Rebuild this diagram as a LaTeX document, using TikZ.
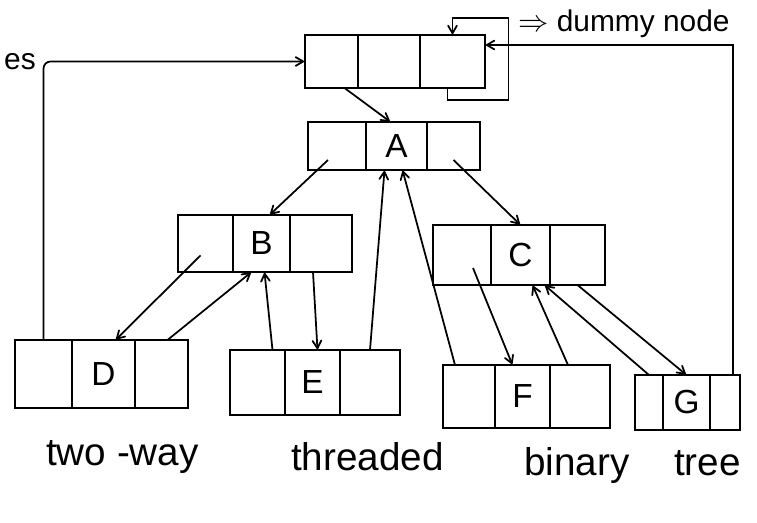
\documentclass[tikz,border=0pt]{standalone}
\usepackage{fontspec}
\setmainfont{Liberation Sans}
\usetikzlibrary{arrows,shapes,positioning,calc}
\tikzstyle{cell}=[draw,line width=1pt,outer sep=0pt,inner sep=0pt,font=\fontsize{19}{21}\selectfont]
\tikzstyle{edge} = [draw,line width=1pt,->,>=angle 60]
\tikzstyle{note} = [font=\fontsize{17}{20}\selectfont]
\tikzstyle{caption} = [font=\fontsize{22}{26}\selectfont, anchor=base west]

\begin{document}
\begin{tikzpicture}[x=0.02cm, y=-0.02cm]

    \useasboundingbox (0,0) rectangle (757,523);

    % every node: left link | data | right link
    \foreach \name/\x/\y/\wl/\wm/\wr/\h/\lab in {head/305/35/53/62/65/53/{},
        A/308/122/58/61/53/48/A, B/178/215/55/57/62/57/B, C/433/225/58/59/55/60/C,
        D/15/340/57/63/53/68/D, E/230/350/55/55/60/65/E, F/443/365/52/55/60/63/F,
        G/635/375/28/47/30/55/G}
    {
        \node[cell, anchor=north west, minimum width=\wl*0.02cm, minimum height=\h*0.02cm] (\name-l) at (\x,\y) {};
        \node[cell, right=0pt of \name-l, minimum width=\wm*0.02cm, minimum height=\h*0.02cm] (\name) {\lab};
        \node[cell, right=0pt of \name, minimum width=\wr*0.02cm, minimum height=\h*0.02cm] (\name-r) {};
    }

    \node[note, anchor=west] (lbl) at (512,24) {$\Rightarrow$ dummy node};
    \node[note, anchor=west] (cut) at (-2,62) {es};

    % child links
    \path[edge] ($(head-l.south)+(13,0)$) -- ($(A.north)+(-6,0)$);
    \path[edge] ($(A-l.center)+(-9,14)$) -- ($(B.north)+(8,0)$);
    \path[edge] ($(A-r.center)+(0,14)$) -- (C.north);
    \path[edge] ($(B-l.center)+(-5,12)$) -- ($(D.north)+(12,0)$);
    \path[edge] ($(B-r.south)+(-8,0)$) -- ($(E.north)+(5,0)$);
    \path[edge] ($(C-l.center)+(11,13)$) -- ($(F.north)+(-10,0)$);
    \path[edge] (C-r.south) -- (G.north);

    % threads
    \path[edge] ($(D-r.north)+(6,0)$) -- ($(B.south)+(-10,0)$);
    \path[edge] ($(E-l.north)+(15,0)$) -- ($(B.south)+(3,0)$);
    \path[edge] (E-r.north) -- ($(A.south)+(-12,0)$);
    \path[edge] ($(F-l.north)+(-14,0)$) -- ($(A.south)+(6,0)$);
    \path[edge] ($(F-r.north)+(-12,0)$) -- ($(C.south)+(12,0)$);
    \path[edge] (G-l.north) -- ($(C.south)+(24,0)$);
    \path[edge, rounded corners=4pt] (D-l.north) |- (head-l.west);
    \path[edge] ($(G-r.north)+(8,0)$) |- ($(head-r.north east)+(0,10)$);
    \path[edge] ($(head-r.south)+(-5,0)$) -- ++(0,12) -| ++(61,-82) -| (head-r.north);

    \node[caption] (w1) at (40,465) {two -way};
    \node[caption] (w2) at (285,470) {threaded};
    \node[caption] (w3) at (518,475) {binary};
    \node[caption] (w4) at (668,475) {tree};

\end{tikzpicture}
\end{document}
